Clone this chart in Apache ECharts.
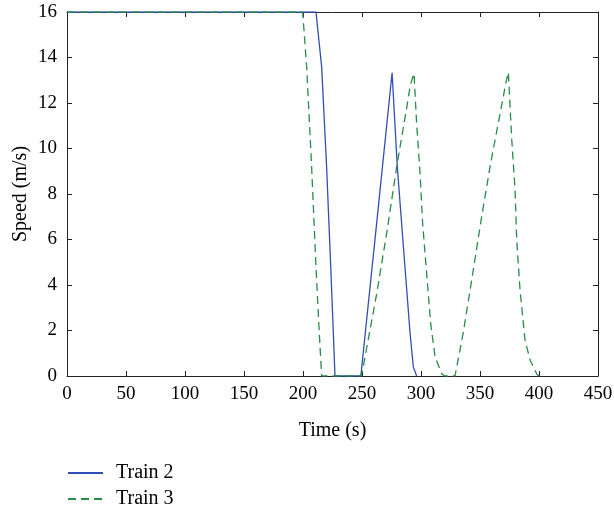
<!DOCTYPE html>
<html><head><meta charset="utf-8">
<script src="https://cdn.jsdelivr.net/npm/echarts@6/dist/echarts.min.js"></script>
<style>html,body{margin:0;padding:0;background:#fff}#c{width:614px;height:511px}</style>
</head><body><div id="c"></div>
<script>
var xTicks = [0,50,100,150,200,250,300,350,400,450];
var yTicks = [0,2,4,6,8,10,12,14,16];
var train2Time  = [0,211,215.8,220,223.5,225.7,227.1,249,262,275.5,279.9,286.4,290.7,293.5,296.3];
var train2Speed = [16,16,13.6,9.2,4.8,1.9,0,0,6.5,13.33,9.2,4.8,1.9,0.4,0];
var train3Time  = [0,199.7,203.1,207.3,211,213.8,215.8,249,251,262.4,271,279.4,287.9,291,294.1,296.3,299.2,301.4,304.8,308.2,311.9,317.5,320,328.8,335.8,342.9,351.4,358.5,366.9,372,374,376.9,379.7,381.1,383.9,388.1,392.4,398,400];
var train3Speed = [16,16,13.6,9.2,4.8,1.9,0,0,0.4,3.6,6.3,9.2,11.8,12.8,13.3,11.1,8.9,6.7,4.5,2.3,0.85,0.1,0,0,1.9,4.2,7,9.2,11.5,12.9,13.35,10.4,8.2,6,3.8,1.6,0.7,0.1,0];
var seriesNames = ['Train 2','Train 3'];

function pairs(a,b){return a.map(function(t,i){return [t,b[i]];});}
var font = 'Liberation Serif';
var axisCommon = {
  axisLine:{show:true,onZero:false,lineStyle:{color:'#222',width:1}},
  axisTick:{show:true,inside:true,length:5,lineStyle:{color:'#222'}},
  splitLine:{show:false}
};
var chart = echarts.init(document.getElementById('c'));
chart.setOption({
  animation:false,
  grid:{left:67,right:16,top:12,bottom:135,containLabel:false,outerBoundsMode:'none'},
  legend:{
    data:[{name:seriesNames[0]},{name:seriesNames[1]}],
    orient:'vertical', left:67, top:463, height:60, padding:0,
    itemWidth:35, itemHeight:20, itemGap:6,
    itemStyle:{opacity:0},
    textStyle:{fontFamily:font,fontSize:20,color:'#000',padding:[0,0,0,8]}
  },
  xAxis:[
    Object.assign({type:'value',min:0,max:450,interval:50,name:'Time (s)',nameLocation:'middle',nameGap:45,
      nameMoveOverlap:false,
      nameTextStyle:{fontFamily:font,fontSize:20,color:'#000'},
      axisLabel:{fontFamily:font,fontSize:19,color:'#000',margin:9}},axisCommon),
    Object.assign({type:'value',min:0,max:450,interval:50,position:'top',axisLabel:{show:false}},axisCommon)
  ],
  yAxis:[
    Object.assign({type:'value',min:0,max:16,interval:2,name:'Speed (m/s)',nameLocation:'middle',nameGap:36,
      nameMoveOverlap:false,
      nameTextStyle:{fontFamily:font,fontSize:20,color:'#000'},
      axisLabel:{fontFamily:font,fontSize:19,color:'#000',margin:10}},axisCommon),
    Object.assign({type:'value',min:0,max:16,interval:2,position:'right',axisLabel:{show:false}},axisCommon)
  ],
  series:[
    {name:seriesNames[0],type:'line',data:pairs(train2Time,train2Speed),symbol:'none',
      lineStyle:{color:'#2f4fb5',width:1.3},itemStyle:{color:'#2f4fb5'}},
    {name:seriesNames[1],type:'line',data:pairs(train3Time,train3Speed),symbol:'none',
      lineStyle:{color:'#2a8a48',width:1.3,type:[8,5]},itemStyle:{color:'#2a8a48'}}
  ]
});
</script></body></html>
